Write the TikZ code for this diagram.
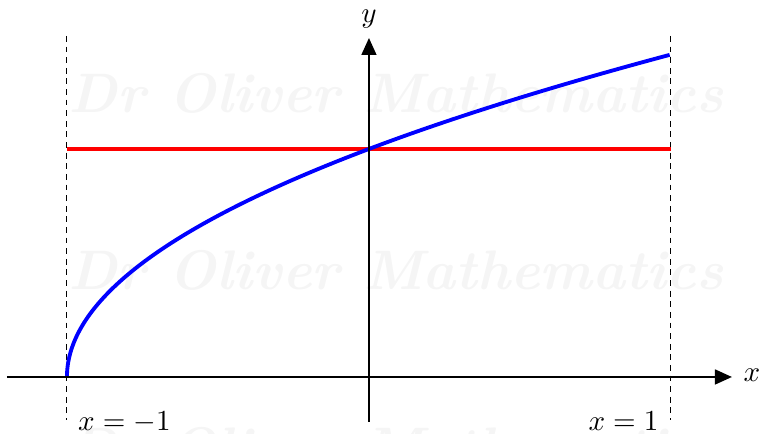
\documentclass[tikz,border=0pt]{standalone}
\usetikzlibrary{arrows.meta}
\begin{document}
\begin{tikzpicture}[x=1cm,y=1cm,
  axis/.style={line width=0.75pt,-{Triangle[length=6.4pt,width=5.6pt]}},
  guide/.style={line width=0.4pt,dash pattern=on 2.2pt off 1.8pt},
  curve/.style={line width=1.45pt},
  lbl/.style={inner sep=0pt,font=\fontsize{10.5pt}{12pt}\selectfont},
  wm/.style={text=black!4,inner sep=0pt,font=\fontsize{21pt}{25pt}\selectfont\bfseries\itshape}]
\useasboundingbox (-4.887,-0.755) rectangle (5.166,4.993);
\clip (-4.887,-0.755) rectangle (5.166,4.993);
% watermark
\node[wm] (w1) at (0.36,3.762) {Dr Oliver Mathematics};
\node[wm] (w2) at (0.36,1.417) {Dr Oliver Mathematics};
\node[wm] (w3) at (0.36,-0.927) {Dr Oliver Mathematics};
% guides
\coordinate (ga) at (-4,4.517);
\coordinate (gb) at (-4,-0.57);
\coordinate (gc) at (4,4.517);
\coordinate (gd) at (4,-0.57);
\draw[guide] (ga) -- (gb);
\draw[guide] (gc) -- (gd);
% red line y=1
\coordinate (ra) at (-4,3.02);
\coordinate (rb) at (4,3.02);
\draw[curve,red] (ra) -- (rb);
% blue curve y = sqrt(x+1)
\draw[curve,blue,domain=0:1.41421,samples=120,variable=\t,line join=round]
  plot ({4*(\t*\t-1)},{3.02*\t});
% axes
\coordinate (xa) at (-4.795,0);
\coordinate (xb) at (4.808,0);
\coordinate (ya) at (0,-0.596);
\coordinate (yb) at (0,4.49);
\draw[axis] (xa) -- (xb);
\draw[axis] (ya) -- (yb);
% labels
\node[lbl,anchor=base west] (lx) at (4.954,-0.066) {$x$};
\node[lbl,anchor=south] (ly) at (0.0,4.61) {$y$};
\node[lbl,anchor=base west] (l1) at (-3.858,-0.715) {$x=-1$};
\node[lbl,anchor=base east] (l2) at (3.841,-0.715) {$x=1$};
\end{tikzpicture}
\end{document}
